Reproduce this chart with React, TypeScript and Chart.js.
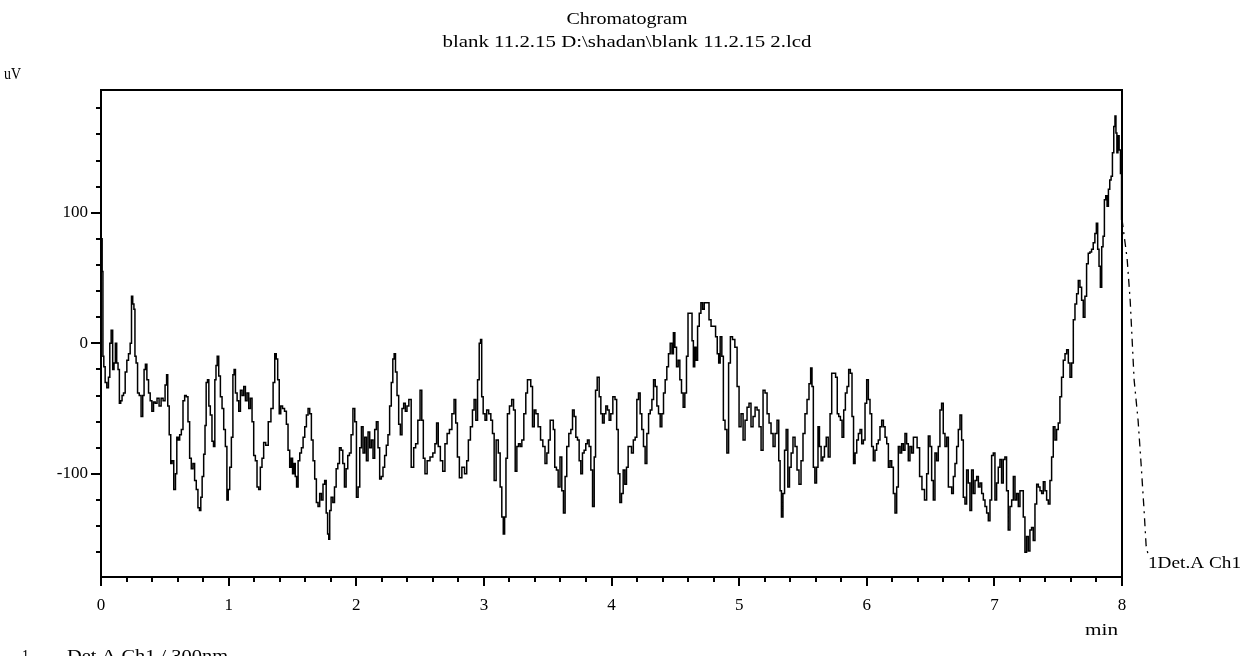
import React, { useEffect, useRef } from 'react';
import { Chart, registerables } from 'chart.js';

Chart.register(...registerables);

// ---- data ----
const timeMin = [
  0, 0.006, 0.012, 0.018, 0.026, 0.039, 0.052, 0.065, 0.073, 0.086, 0.097,
  0.107, 0.118, 0.128, 0.139, 0.149, 0.16, 0.17, 0.183, 0.196, 0.209,
  0.222, 0.235, 0.243, 0.254, 0.262, 0.27, 0.28, 0.293, 0.306, 0.322,
  0.332, 0.343, 0.353, 0.366, 0.379, 0.392, 0.405, 0.418, 0.431, 0.447,
  0.463, 0.479, 0.494, 0.51, 0.518, 0.528, 0.541, 0.552, 0.562, 0.578,
  0.589, 0.599, 0.61, 0.623, 0.636, 0.649, 0.662, 0.675, 0.688, 0.701,
  0.714, 0.727, 0.74, 0.753, 0.766, 0.777, 0.787, 0.798, 0.811, 0.819,
  0.829, 0.84, 0.85, 0.863, 0.876, 0.887, 0.897, 0.905, 0.916, 0.929,
  0.942, 0.955, 0.968, 0.981, 0.992, 1.002, 1.015, 1.028, 1.039, 1.047,
  1.06, 1.073, 1.086, 1.099, 1.112, 1.125, 1.138, 1.151, 1.164, 1.177,
  1.19, 1.203, 1.216, 1.229, 1.242, 1.255, 1.268, 1.281, 1.3, 1.321,
  1.342, 1.355, 1.368, 1.378, 1.391, 1.402, 1.415, 1.43, 1.446, 1.459,
  1.472, 1.485, 1.496, 1.506, 1.517, 1.527, 1.538, 1.551, 1.564, 1.577,
  1.59, 1.603, 1.616, 1.629, 1.642, 1.655, 1.668, 1.681, 1.694, 1.707,
  1.72, 1.733, 1.746, 1.759, 1.77, 1.781, 1.788, 1.796, 1.81, 1.823,
  1.836, 1.849, 1.862, 1.875, 1.888, 1.901, 1.914, 1.927, 1.94, 1.953,
  1.966, 1.982, 1.995, 2.008, 2.021, 2.034, 2.047, 2.06, 2.073, 2.086,
  2.099, 2.112, 2.125, 2.138, 2.151, 2.164, 2.177, 2.19, 2.203, 2.216,
  2.229, 2.242, 2.255, 2.268, 2.281, 2.292, 2.302, 2.313, 2.326, 2.339,
  2.352, 2.365, 2.378, 2.391, 2.404, 2.42, 2.441, 2.459, 2.472, 2.493,
  2.507, 2.52, 2.531, 2.546, 2.565, 2.591, 2.609, 2.624, 2.635, 2.65,
  2.668, 2.687, 2.703, 2.721, 2.739, 2.76, 2.773, 2.786, 2.799, 2.817,
  2.838, 2.859, 2.872, 2.885, 2.904, 2.917, 2.93, 2.944, 2.957, 2.97,
  2.978, 2.988, 3.001, 3.017, 3.027, 3.048, 3.061, 3.074, 3.087, 3.105,
  3.121, 3.134, 3.147, 3.157, 3.168, 3.178, 3.191, 3.21, 3.226, 3.239,
  3.252, 3.265, 3.278, 3.291, 3.304, 3.322, 3.335, 3.348, 3.361, 3.374,
  3.388, 3.401, 3.414, 3.435, 3.453, 3.471, 3.487, 3.5, 3.513, 3.526,
  3.539, 3.549, 3.562, 3.575, 3.589, 3.604, 3.617, 3.63, 3.643, 3.656,
  3.675, 3.688, 3.701, 3.714, 3.727, 3.74, 3.753, 3.766, 3.779, 3.792,
  3.805, 3.818, 3.831, 3.845, 3.858, 3.871, 3.879, 3.897, 3.91, 3.923,
  3.936, 3.949, 3.962, 3.975, 3.988, 4.001, 4.02, 4.035, 4.046, 4.059,
  4.072, 4.085, 4.098, 4.111, 4.124, 4.137, 4.15, 4.163, 4.179, 4.192,
  4.205, 4.218, 4.231, 4.244, 4.257, 4.27, 4.284, 4.297, 4.31, 4.323,
  4.336, 4.349, 4.362, 4.375, 4.388, 4.401, 4.414, 4.427, 4.44, 4.453,
  4.467, 4.48, 4.49, 4.503, 4.516, 4.529, 4.542, 4.555, 4.568, 4.581,
  4.594, 4.605, 4.615, 4.626, 4.636, 4.647, 4.657, 4.668, 4.681, 4.694,
  4.707, 4.72, 4.733, 4.756, 4.772, 4.788, 4.809, 4.822, 4.835, 4.845,
  4.858, 4.871, 4.882, 4.897, 4.911, 4.924, 4.939, 4.957, 4.976, 4.992,
  5.007, 5.023, 5.039, 5.054, 5.07, 5.085, 5.101, 5.117, 5.133, 5.148,
  5.164, 5.18, 5.195, 5.211, 5.227, 5.242, 5.258, 5.274, 5.289, 5.305,
  5.316, 5.326, 5.337, 5.35, 5.362, 5.375, 5.388, 5.401, 5.414, 5.43,
  5.446, 5.461, 5.477, 5.493, 5.508, 5.524, 5.54, 5.555, 5.566, 5.576,
  5.587, 5.6, 5.613, 5.623, 5.636, 5.649, 5.662, 5.675, 5.69, 5.706,
  5.719, 5.732, 5.748, 5.764, 5.774, 5.787, 5.8, 5.813, 5.826, 5.839,
  5.852, 5.865, 5.878, 5.891, 5.902, 5.915, 5.928, 5.941, 5.954, 5.967,
  5.98, 5.993, 6.006, 6.019, 6.032, 6.045, 6.058, 6.071, 6.084, 6.097,
  6.11, 6.124, 6.137, 6.15, 6.163, 6.176, 6.189, 6.202, 6.215, 6.228,
  6.241, 6.254, 6.267, 6.28, 6.293, 6.306, 6.319, 6.332, 6.345, 6.359,
  6.372, 6.384, 6.405, 6.423, 6.442, 6.463, 6.476, 6.489, 6.502, 6.515,
  6.528, 6.541, 6.554, 6.567, 6.58, 6.593, 6.606, 6.62, 6.633, 6.646,
  6.659, 6.672, 6.685, 6.698, 6.711, 6.724, 6.737, 6.75, 6.763, 6.776,
  6.789, 6.802, 6.815, 6.828, 6.841, 6.855, 6.868, 6.881, 6.894, 6.907,
  6.92, 6.933, 6.946, 6.959, 6.972, 6.985, 6.998, 7.011, 7.024, 7.037,
  7.05, 7.063, 7.076, 7.089, 7.102, 7.115, 7.129, 7.142, 7.155, 7.168,
  7.181, 7.194, 7.207, 7.22, 7.233, 7.246, 7.259, 7.272, 7.285, 7.298,
  7.311, 7.325, 7.338, 7.351, 7.364, 7.377, 7.39, 7.403, 7.416, 7.429,
  7.442, 7.455, 7.468, 7.481, 7.494, 7.507, 7.52, 7.533, 7.547, 7.56,
  7.573, 7.586, 7.599, 7.612, 7.625, 7.638, 7.651, 7.664, 7.677, 7.69,
  7.703, 7.716, 7.729, 7.742, 7.755, 7.768, 7.781, 7.794, 7.804, 7.815,
  7.825, 7.836, 7.846, 7.857, 7.867, 7.878, 7.888, 7.899, 7.909, 7.92,
  7.93, 7.941, 7.949, 7.956, 7.964, 7.972, 7.983, 7.993, 8,
];

const signalUV = [
  80, 80, 55, -10, -18, -30, -34, -26, 0, 10, -20,
  -15, 0, -15, -20, -46, -44, -40, -38, -22, -13,
  -8, 0, 36, 30, 26, -10, -15, -38, -40, -56,
  -40, -20, -16, -28, -38, -44, -52, -45, -46, -42,
  -48, -42, -44, -32, -24, -48, -70, -92, -90, -112,
  -100, -72, -74, -70, -66, -44, -40, -41, -60, -88,
  -96, -92, -105, -112, -126, -128, -118, -102, -85, -63,
  -30, -28, -48, -55, -75, -79, -28, -17, -10, -25,
  -41, -50, -66, -79, -120, -112, -95, -72, -24, -20,
  -38, -44, -52, -36, -40, -33, -44, -38, -50, -42,
  -60, -86, -90, -110, -112, -95, -88, -76, -78, -60,
  -50, -30, -8, -12, -28, -54, -48, -50, -52, -62,
  -82, -95, -88, -100, -92, -102, -110, -90, -84, -80,
  -72, -64, -55, -50, -54, -74, -90, -104, -122, -125,
  -115, -120, -108, -105, -130, -146, -150, -128, -118, -122,
  -110, -96, -92, -80, -82, -92, -110, -96, -86, -84,
  -70, -50, -60, -118, -110, -80, -64, -84, -72, -90,
  -68, -80, -74, -88, -66, -60, -80, -104, -102, -95,
  -86, -78, -70, -48, -30, -12, -8, -22, -40, -62,
  -70, -50, -46, -52, -48, -43, -95, -80, -77, -59,
  -36, -59, -88, -100, -90, -87, -84, -77, -61, -79,
  -90, -98, -77, -69, -66, -54, -43, -61, -87, -103,
  -95, -100, -90, -74, -64, -51, -43, -59, -28, 0,
  3, -41, -54, -59, -51, -54, -59, -69, -105, -74,
  -84, -110, -133, -146, -133, -88, -54, -48, -43, -51,
  -98, -79, -77, -79, -74, -54, -38, -28, -28, -33,
  -64, -51, -54, -64, -74, -79, -92, -84, -74, -59,
  -59, -66, -95, -97, -110, -87, -113, -130, -102, -79,
  -69, -66, -51, -56, -72, -74, -90, -100, -84, -82,
  -77, -74, -79, -97, -125, -87, -36, -26, -41, -54,
  -61, -54, -48, -51, -59, -54, -41, -43, -66, -100,
  -122, -115, -97, -108, -95, -79, -79, -84, -74, -72,
  -43, -38, -54, -66, -79, -92, -69, -54, -51, -43,
  -28, -33, -48, -54, -64, -54, -38, -28, -18, -8,
  0, -8, 8, -3, -18, -13, -28, -38, -49, -38,
  -10, 23, 23, 23, 2, -18, -3, -13, 13, 23,
  31, 26, 31, 31, 18, 13, 13, 5, -8, -15,
  5, -10, -59, -66, -84, -15, 5, 3, -3, -33,
  -64, -54, -74, -59, -49, -46, -64, -56, -49, -51,
  -64, -82, -36, -38, -54, -61, -69, -79, -69, -59,
  -90, -113, -133, -115, -82, -66, -110, -95, -84, -72,
  -79, -97, -108, -90, -69, -54, -43, -31, -19, -33,
  -95, -107, -95, -64, -79, -90, -87, -79, -72, -87,
  -54, -23, -23, -26, -54, -56, -59, -72, -51, -38,
  -33, -20, -23, -56, -92, -84, -74, -69, -66, -77,
  -74, -46, -28, -43, -54, -79, -90, -82, -77, -74,
  -64, -59, -64, -72, -77, -95, -90, -95, -115, -130,
  -110, -79, -84, -77, -82, -69, -77, -90, -79, -84,
  -72, -72, -80, -102, -112, -120, -100, -71, -79, -105,
  -120, -84, -90, -79, -51, -46, -69, -79, -72, -110,
  -110, -115, -102, -92, -79, -66, -55, -74, -118, -123,
  -97, -107, -128, -97, -115, -105, -102, -110, -107, -115,
  -120, -125, -130, -136, -120, -86, -84, -120, -107, -95,
  -89, -107, -89, -87, -113, -143, -125, -120, -102, -120,
  -115, -125, -113, -113, -133, -160, -148, -159, -143, -141,
  -151, -123, -108, -110, -113, -115, -106, -113, -120, -123,
  -105, -87, -64, -74, -66, -61, -41, -26, -13, -8,
  -5, -15, -26, -15, 18, 30, 38, 48, 43, 33,
  20, 36, 61, 69, 70, 72, 77, 84, 92, 72,
  59, 43, 74, 82, 110, 113, 105, 118, 125, 128,
  146, 166, 174, 161, 146, 159, 148, 130, 95,
];

// dashed trace continuing past the end of the time axis down to its label
const leaderTime = [8, 8.02, 8.04, 8.064, 8.095, 8.126, 8.15, 8.173, 8.189, 8.205];
const leaderUV = [95, 80, 65, 33, -28, -59, -93, -128, -155, -162];

const xTickLabels = ['0', '1', '2', '3', '4', '5', '6', '7', '8'];
const yTickValues = [-100, 0, 100];
const xMinorStep = 0.2;
const yMinorStep = 20;

const titleText = 'Chromatogram';
const subtitleText = 'blank 11.2.15 D:\\shadan\\blank 11.2.15 2.lcd';
const yUnitText = 'uV';
const xUnitText = 'min';
const traceLabelText = '1Det.A Ch1';
const footerIndexText = '1';
const footerText = 'Det.A Ch1 / 300nm';

const FONT = '"Liberation Serif", "Times New Roman", serif';

function fitText(
  ctx: CanvasRenderingContext2D,
  text: string,
  x: number,
  y: number,
  width: number,
  size: number,
  align: CanvasTextAlign
) {
  ctx.save();
  ctx.font = `${size}px ${FONT}`;
  const w = ctx.measureText(text).width || 1;
  ctx.translate(x, y);
  ctx.scale(width / w, 1);
  ctx.textAlign = align;
  ctx.textBaseline = 'middle';
  ctx.fillStyle = '#000';
  ctx.fillText(text, 0, 0);
  ctx.restore();
}

const framePlugin = {
  id: 'frameAndTicks',
  afterDatasetsDraw(chart: any) {
    const { ctx, chartArea, scales } = chart;
    const { left, right, top, bottom } = chartArea;
    const xs = scales.x;
    const ys = scales.y;
    ctx.save();
    // dashed continuation of the trace, placed through the chart's own scales
    ctx.strokeStyle = '#000';
    ctx.lineWidth = 1.3;
    ctx.setLineDash([8, 5, 2, 5]);
    ctx.beginPath();
    leaderTime.forEach((t, i) => {
      const px = xs.getPixelForValue(t);
      const py = ys.getPixelForValue(leaderUV[i]);
      if (i === 0) ctx.moveTo(px, py);
      else ctx.lineTo(px, py);
    });
    ctx.stroke();
    ctx.setLineDash([]);

    ctx.lineWidth = 2;
    ctx.strokeRect(left, top, right - left, bottom - top);
    ctx.beginPath();
    const yStart = Math.ceil(ys.min / yMinorStep) * yMinorStep;
    for (let v = yStart; v <= ys.max; v += yMinorStep) {
      const y = Math.round(ys.getPixelForValue(v));
      const len = v % 100 === 0 ? 10 : 5;
      ctx.moveTo(left - len, y);
      ctx.lineTo(left, y);
    }
    const steps = Math.round((xs.max - xs.min) / xMinorStep);
    for (let i = 0; i <= steps; i++) {
      const t = xs.min + i * xMinorStep;
      const x = Math.round(xs.getPixelForValue(t));
      const len = i % 5 === 0 ? 9 : 5;
      ctx.moveTo(x, bottom);
      ctx.lineTo(x, bottom + len);
    }
    ctx.stroke();
    ctx.restore();
  },
};

const textPlugin = {
  id: 'chromatogramTexts',
  afterDraw(chart: any) {
    const ctx = chart.ctx;
    fitText(ctx, titleText, 627, 20, 121, 17, 'center');
    fitText(ctx, subtitleText, 627, 43, 369, 17, 'center');
    fitText(ctx, yUnitText, 4, 75, 17, 17, 'left');
    fitText(ctx, xUnitText, 1085, 631, 33, 17, 'left');
    fitText(ctx, traceLabelText, 1148, 564, 93, 17, 'left');
    fitText(ctx, footerIndexText, 22, 657, 7, 17, 'left');
    fitText(ctx, footerText, 67, 657, 161, 17, 'left');
  },
};

export default function App() {
  const canvasRef = useRef<HTMLCanvasElement | null>(null);

  useEffect(() => {
    const canvas = canvasRef.current;
    if (!canvas) return;
    const chart = new Chart(canvas, {
      type: 'line',
      data: {
        datasets: [
          {
            label: traceLabelText,
            data: timeMin.map((t, i) => ({ x: t, y: signalUV[i] })),
            borderColor: '#000',
            borderWidth: 1.5,
            pointRadius: 0,
            stepped: 'middle',
            fill: false,
          },
        ],
      },
      options: {
        responsive: false,
        animation: false,
        devicePixelRatio: 1,
        layout: { padding: { top: 90, right: 123, bottom: 0, left: 0 } },
        plugins: {
          legend: { display: false },
          title: { display: false },
          tooltip: { enabled: false },
        },
        scales: {
          x: {
            type: 'linear',
            min: 0,
            max: 8,
            afterFit: (s: any) => {
              s.height = 79;
            },
            afterBuildTicks: (s: any) => {
              s.ticks = xTickLabels.map((_, i) => ({ value: i }));
            },
            grid: { display: true, drawOnChartArea: false, color: 'rgba(0,0,0,0)', tickLength: 10 },
            border: { display: false },
            ticks: {
              color: '#000',
              padding: 8,
              maxRotation: 0,
              autoSkip: false,
              font: { family: FONT, size: 17 },
              callback: (_v: any, i: number) => xTickLabels[i],
            },
          },
          y: {
            type: 'linear',
            min: -179,
            max: 194,
            afterFit: (s: any) => {
              s.width = 101;
            },
            afterBuildTicks: (s: any) => {
              s.ticks = yTickValues.map((v) => ({ value: v }));
            },
            grid: { display: true, drawOnChartArea: false, color: 'rgba(0,0,0,0)', tickLength: 10 },
            border: { display: false },
            ticks: {
              color: '#000',
              padding: 3,
              autoSkip: false,
              font: { family: FONT, size: 17 },
              callback: (v: any) => String(v),
            },
          },
        },
      },
      plugins: [framePlugin, textPlugin],
    } as any);
    return () => chart.destroy();
  }, []);

  return (
    <div style={{ position: 'fixed', left: 0, top: 0, width: 1245, height: 656, background: '#fff' }}>
      <canvas ref={canvasRef} width={1245} height={656} style={{ display: 'block' }} />
    </div>
  );
}
